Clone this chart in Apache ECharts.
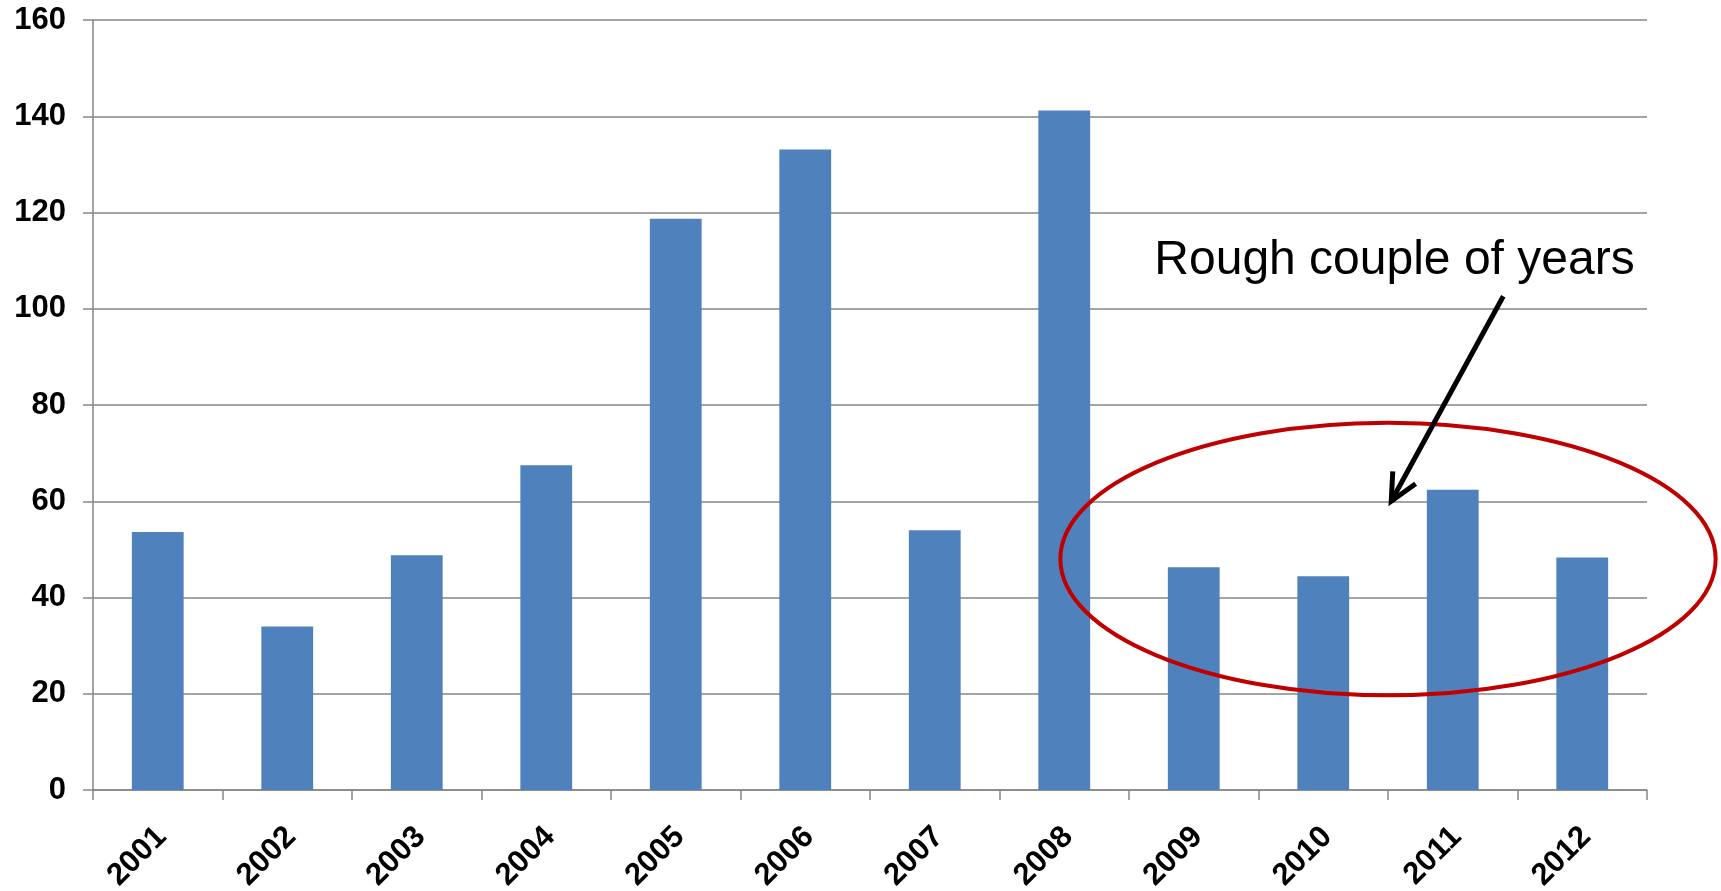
<!DOCTYPE html>
<html>
<head>
<meta charset="utf-8">
<script src="https://cdn.jsdelivr.net/npm/echarts@6/dist/echarts.min.js"></script>
<style>
  html, body { margin: 0; padding: 0; background: #fff; }
  #chart { width: 1721px; height: 891px; }
</style>
</head>
<body>
<div id="chart"></div>
<script>
// yearly values
const years = ['2001', '2002', '2003', '2004', '2005', '2006', '2007', '2008', '2009', '2010', '2011', '2012']
const values = [53.6, 34.0, 48.8, 67.5, 118.7, 133.1, 54.0, 141.2, 46.3, 44.4, 62.4, 48.3]
const yTicks = { min: 0, max: 160, interval: 20 }

// annotation, in (category position, value) units
const noteText = 'Rough couple of years'
const ellipseAt = { cat: 9.5, val: 48, rCat: 2.53, rVal: 28.3 }
const arrowFrom = { cat: 10.39, val: 102.6 }
const arrowTo = { cat: 9.525, val: 60 }
const noteAt = { cat: 9.55, val: 110 }

const FONT = 'Arial, "Liberation Sans", sans-serif'
const chart = echarts.init(document.getElementById('chart'))

chart.setOption({
  animation: false,
  grid: { left: 93, right: 74, top: 20, bottom: 101, outerBoundsMode: 'none', containLabel: false },
  xAxis: {
    type: 'category', data: years,
    axisLine: { lineStyle: { color: '#868686', width: 1.5 } },
    axisTick: { show: true, length: 10, lineStyle: { color: '#868686', width: 1.5 } },
    axisLabel: {
      rotate: 45, margin: 24, color: '#000', fontSize: 31, fontWeight: 'bold',
      fontFamily: FONT, verticalAlign: 'top', padding: [0, 10, 0, 0]
    }
  },
  yAxis: {
    type: 'value', min: yTicks.min, max: yTicks.max, interval: yTicks.interval,
    axisLine: { show: true, lineStyle: { color: '#868686', width: 1.5 } },
    axisTick: { show: true, length: 10, lineStyle: { color: '#868686', width: 1.5 } },
    axisLabel: { margin: 27, color: '#000', fontSize: 31, fontWeight: 'bold', fontFamily: FONT },
    splitLine: { lineStyle: { color: '#868686', width: 1.5 } }
  },
  series: [{
    type: 'bar', data: values, barCategoryGap: '60%',
    itemStyle: { color: '#4f81bd' }
  }]
})

// category position (fractional) + value -> pixel
function px(cat, val) {
  const i = Math.max(0, Math.min(years.length - 2, Math.floor(cat)))
  const a = chart.convertToPixel({ gridIndex: 0 }, [i, val])
  const b = chart.convertToPixel({ gridIndex: 0 }, [i + 1, val])
  const t = cat - i
  return [a[0] + (b[0] - a[0]) * t, a[1]]
}

function drawNotes() {
  const c = px(ellipseAt.cat, ellipseAt.val)
  const step = px(1, 0)[0] - px(0, 0)[0]
  const top = px(ellipseAt.cat, ellipseAt.val + ellipseAt.rVal)
  const rx = ellipseAt.rCat * step
  const ry = c[1] - top[1]

  const s = px(arrowFrom.cat, arrowFrom.val)
  const e = px(arrowTo.cat, arrowTo.val)
  const ang = Math.atan2(e[1] - s[1], e[0] - s[0])
  const head = 30, spread = Math.PI / 7
  const h1 = [e[0] - head * Math.cos(ang - spread), e[1] - head * Math.sin(ang - spread)]
  const h2 = [e[0] - head * Math.cos(ang + spread), e[1] - head * Math.sin(ang + spread)]

  const n = px(noteAt.cat, noteAt.val)

  chart.setOption({
    graphic: [
      {
        type: 'ellipse', z: 100,
        shape: { cx: c[0], cy: c[1], rx: rx, ry: ry },
        style: { fill: 'none', stroke: '#c00000', lineWidth: 4 }
      },
      {
        type: 'line', z: 100,
        shape: { x1: s[0], y1: s[1], x2: e[0], y2: e[1] },
        style: { stroke: '#000', lineWidth: 5 }
      },
      {
        type: 'polyline', z: 100,
        shape: { points: [h1, e, h2] },
        style: { stroke: '#000', lineWidth: 5, fill: 'none', lineJoin: 'miter' }
      },
      {
        type: 'text', z: 100, x: n[0], y: n[1],
        style: {
          text: noteText, fill: '#000', font: '48px ' + FONT,
          textAlign: 'center', textVerticalAlign: 'middle'
        }
      }
    ]
  })
}

drawNotes()
</script>
</body>
</html>
